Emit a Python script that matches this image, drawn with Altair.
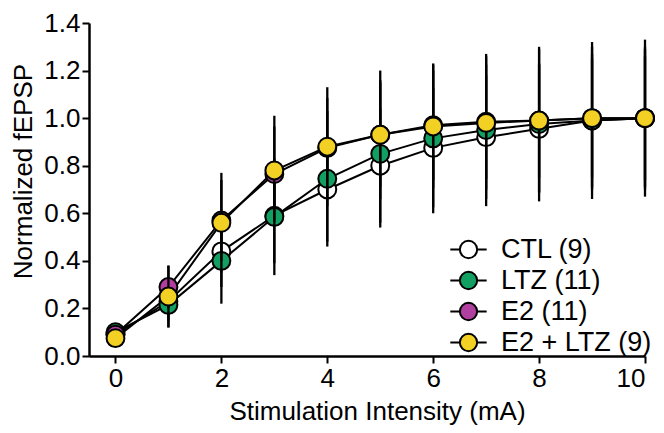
import altair as alt
import pandas as pd

# ---- data ----
intensity = [0, 1, 2, 3, 4, 5, 6, 7, 8, 9, 10]
groups = ["CTL (9)", "LTZ (11)", "E2 (11)", "E2 + LTZ (9)"]
colors = ["#ffffff", "#12a062", "#b03fa0", "#f2d024"]

ctl_mean = [0.09, 0.23, 0.44, 0.59, 0.70, 0.80, 0.875, 0.92, 0.955, 0.99, 1.0]
ctl_sem = [0.02, 0.08, 0.15, 0.20, 0.22, 0.24, 0.25, 0.26, 0.27, 0.28, 0.29]
ltz_mean = [0.10, 0.215, 0.40, 0.585, 0.745, 0.85, 0.915, 0.95, 0.975, 0.99, 1.0]
ltz_sem = [0.02, 0.095, 0.18, 0.245, 0.285, 0.31, 0.315, 0.32, 0.325, 0.33, 0.33]
e2_mean = [0.09, 0.29, 0.57, 0.765, 0.875, 0.93, 0.97, 0.985, 0.99, 1.0, 1.0]
e2_sem = [0.02, 0.09, 0.17, 0.20, 0.21, 0.22, 0.23, 0.24, 0.24, 0.25, 0.26]
e2ltz_mean = [0.075, 0.25, 0.56, 0.78, 0.88, 0.93, 0.965, 0.98, 0.99, 1.0, 1.0]
e2ltz_sem = [0.02, 0.13, 0.21, 0.23, 0.25, 0.27, 0.26, 0.28, 0.30, 0.30, 0.30]

x_ticks = [0, 2, 4, 6, 8, 10]
y_ticks = [0.0, 0.2, 0.4, 0.6, 0.8, 1.0, 1.2, 1.4]

means = [ctl_mean, ltz_mean, e2_mean, e2ltz_mean]
sems = [ctl_sem, ltz_sem, e2_sem, e2ltz_sem]

rows = []
for g, m, s in zip(groups, means, sems):
    for xi, mi, si in zip(intensity, m, s):
        rows.append({"group": g, "x": xi, "y": mi, "lo": mi - si, "hi": mi + si})
df = pd.DataFrame(rows)

FONT = "Liberation Sans"

x_enc = alt.X("x:Q", scale=alt.Scale(domain=[-0.5, 10], nice=False, zero=False),
              axis=alt.Axis(values=x_ticks, format="d", title="Stimulation Intensity (mA)",
                            titleX=288, titleY=63, titleBaseline="alphabetic"))
y_enc = alt.Y("y:Q", scale=alt.Scale(domain=[0, 1.4], nice=False),
              axis=alt.Axis(values=y_ticks, format=".1f", title="Normalized fEPSP",
                            titleX=-58, titleY=148, titleBaseline="alphabetic"))

legend_symbol = "M-2.1,0L-1,0M1,0L2.1,0M-1,0A1,1,0,1,1,1,0A1,1,0,1,1,-1,0Z"
fill_enc = alt.Fill("group:N",
                    scale=alt.Scale(domain=groups, range=colors),
                    legend=alt.Legend(title=None, orient="none", legendX=366, legendY=213,
                                      symbolType=legend_symbol, symbolSize=300,
                                      symbolStrokeColor="black", symbolStrokeWidth=2,
                                      symbolOpacity=1, labelFont=FONT, labelFontSize=27,
                                      labelColor="black", labelOffset=19, rowPadding=3))

base = alt.Chart(df)

lines = base.mark_line(color="black", strokeWidth=2).encode(
    x=x_enc, y=y_enc, detail="group:N")

layers = [lines]
for g in groups:
    sub = base.transform_filter(alt.datum.group == g)
    layers.append(sub.mark_rule(color="black", strokeWidth=2.3).encode(
        x=x_enc, y=alt.Y("lo:Q"), y2="hi:Q"))
    layers.append(sub.mark_circle(size=320, stroke="black", strokeWidth=2, opacity=1).encode(
        x=x_enc, y=y_enc, fill=fill_enc))

chart = alt.layer(*layers).properties(
    width=556, height=333,
    autosize=alt.AutoSizeParams(type="none"),
    padding={"left": 81, "top": 15, "right": 11, "bottom": 69},
).configure_view(stroke="transparent").configure_axis(
    grid=False, domainColor="black", domainWidth=2.5, tickColor="black", tickWidth=2,
    tickSize=7, labelFont=FONT, labelFontSize=26, labelColor="black",
    titleFont=FONT, titleFontSize=26, titleColor="black", titleFontWeight="normal",
    labelPadding=2,
)

chart.save("out.html", embed_options={"renderer": "svg", "actions": False})
